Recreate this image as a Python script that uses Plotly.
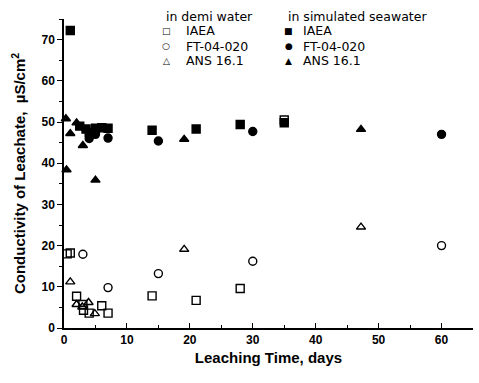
import plotly.graph_objects as go

# in demi water (open markers)
demi_iaea_x = [0.5, 1, 2, 3, 3.1, 4, 6, 7, 14, 21, 28, 35]
demi_iaea_y = [18.0, 18.2, 7.7, 5.7, 4.3, 3.6, 5.4, 3.6, 7.8, 6.7, 9.6, 50.5]
demi_ft_x = [3, 7, 15, 30, 60]
demi_ft_y = [17.9, 9.8, 13.2, 16.2, 20.0]
demi_ans_x = [1, 2, 2.9, 3.9, 4.9, 19.1, 47.2]
demi_ans_y = [11.2, 5.7, 5.1, 6.2, 3.5, 19.1, 24.5]

# in simulated seawater (filled markers)
sea_iaea_x = [1, 2.5, 3.5, 4, 5, 6, 7, 14, 21, 28, 35]
sea_iaea_y = [72.2, 49.0, 48.3, 47.5, 48.5, 48.6, 48.5, 48.0, 48.3, 49.4, 49.8]
sea_ft_x = [4, 5, 7, 15, 30, 60]
sea_ft_y = [46.0, 47.0, 46.1, 45.4, 47.7, 47.0]
sea_ans_x = [0.3, 0.4, 1, 2, 3, 5, 19.1, 47.2]
sea_ans_y = [50.8, 38.4, 47.2, 49.8, 44.3, 35.9, 45.8, 48.2]

series_names = ["IAEA", "FT-04-020", "ANS 16.1"]
group_titles = ["in demi water", "in simulated seawater"]
open_glyphs = ["□", "○", "△"]
filled_glyphs = ["■", "●", "▲"]

FONT = "Liberation Sans, Arial, sans-serif"
LEGFONT = "DejaVu Sans"
fig = go.Figure()

def add(x, y, sym, name):
    fig.add_trace(go.Scatter(
        x=x, y=y, mode="markers", name=name, showlegend=False,
        marker=dict(symbol=sym, size=8, color="black",
                    line=dict(color="black", width=1.4)),
        cliponaxis=False))

add(demi_iaea_x, demi_iaea_y, "square-open", "IAEA")
add(demi_ft_x, demi_ft_y, "circle-open", "FT-04-020")
add(demi_ans_x, demi_ans_y, "triangle-up-open", "ANS 16.1")
add(sea_iaea_x, sea_iaea_y, "square", "IAEA")
add(sea_ft_x, sea_ft_y, "circle", "FT-04-020")
add(sea_ans_x, sea_ans_y, "triangle-up", "ANS 16.1")

# manual two-column legend
ann = []
title_x = [0.2469, 0.5452]
glyph_x = [0.2494, 0.5501]
text_x = [0.2958, 0.5819]
row_y = [0.9612, 0.9126, 0.8641]
for c, (ttl, glyphs) in enumerate(zip(group_titles, [open_glyphs, filled_glyphs])):
    ann.append(dict(text=ttl, x=title_x[c], y=1.0097, xref="paper", yref="paper",
                    xanchor="left", yanchor="middle", showarrow=False, borderpad=0,
                    font=dict(family=LEGFONT, size=12.5, color="black")))
    for r, (g, nm) in enumerate(zip(glyphs, series_names)):
        ann.append(dict(text=g, x=glyph_x[c], y=row_y[r], xref="paper", yref="paper",
                        xanchor="center", yanchor="middle", showarrow=False, borderpad=0,
                        font=dict(family="DejaVu Sans", size=9, color="black")))
        ann.append(dict(text=nm, x=text_x[c], y=row_y[r], xref="paper", yref="paper",
                        xanchor="left", yanchor="middle", showarrow=False, borderpad=0,
                        font=dict(family=LEGFONT, size=12.5, color="black")))

fig.update_layout(
    width=479, height=383,
    margin=dict(l=64, r=6, t=19, b=55),
    paper_bgcolor="white", plot_bgcolor="white",
    font=dict(family=FONT, color="black"),
    showlegend=False,
    annotations=ann,
    xaxis=dict(range=[0, 65], tickvals=[0, 10, 20, 30, 40, 50, 60],
               ticks="inside", ticklen=5, tickwidth=1.3, tickcolor="black",
               minor=dict(tickvals=[5, 15, 25, 35, 45, 55, 65], ticks="inside", ticklen=3, tickcolor="black"),
               showline=True, linecolor="black", linewidth=1.5, showgrid=False, zeroline=False,
               tickfont=dict(family=FONT, size=12, color="black", weight="bold"),
               title=dict(text="Leaching Time, days", font=dict(family=FONT, size=15, weight="bold"), standoff=6)),
    yaxis=dict(range=[0, 75], tickvals=[0, 10, 20, 30, 40, 50, 60, 70],
               ticks="outside", ticklen=5, tickwidth=1.3, tickcolor="black",
               minor=dict(tickvals=[5, 15, 25, 35, 45, 55, 65, 75], ticks="outside", ticklen=3, tickcolor="black"),
               showline=True, linecolor="black", linewidth=1.5, showgrid=False, zeroline=False,
               tickfont=dict(family=FONT, size=12, color="black", weight="bold"),
               title=dict(text="Conductivity of Leachate,  µS/cm<sup>2</sup>", font=dict(family=FONT, size=15, weight="bold"), standoff=12)),
)

fig.write_html("out.html")
